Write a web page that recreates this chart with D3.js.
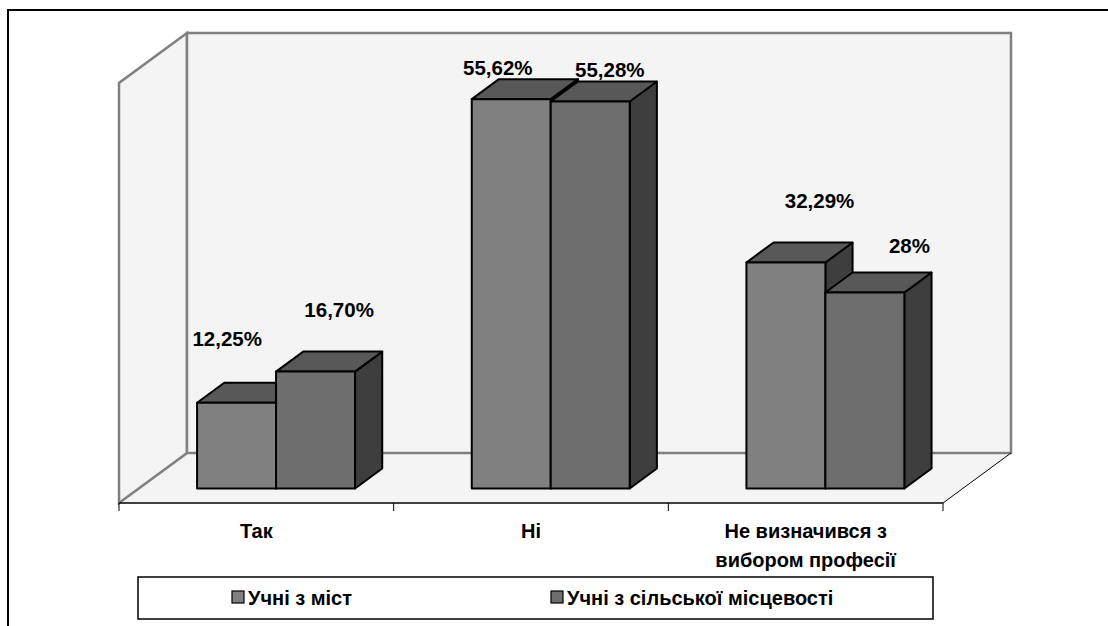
<!DOCTYPE html>
<html><head><meta charset="utf-8">
<script src="https://cdn.jsdelivr.net/npm/d3@7"></script>
<style>body{margin:0;background:#fff}svg{display:block}text{font-family:"Liberation Sans",Arial,sans-serif;font-weight:bold;fill:#000}</style>
</head><body>
<svg id="c" width="1108" height="626"></svg>
<script>
const categories = [["Так"], ["Ні"], ["Не визначився з", "вибором професії"]];
const seriesNames = ["Учні з міст", "Учні з сільської місцевості"];
const cityValues = [12.25, 55.62, 32.29];
const ruralValues = [16.70, 55.28, 28];
const cityLabels = ["12,25%", "55,62%", "32,29%"];
const ruralLabels = ["16,70%", "55,28%", "28%"];
const yMax = 60;

// layout
const front = {x0: 119, x1: 943, base: 503};
const depth = {dx: 68, dy: 50};
const wallH = 420;
const tFront = 0.29, tBack = 0.69;
const frontColors = ["#808080", "#6e6e6e"];
const topColor = "#585858", sideColor = "#3e3e3e";
// label offsets relative to the bar's top-back centre [series][category]
const labelNudge = [[[-23, -54], [-27, -21], [20, -51]], [[10, -52], [6, -22], [31, -37]]];

const svg = d3.select("#c");
const series = [cityValues, ruralValues];
const labels = [cityLabels, ruralLabels];

const x = d3.scaleBand().domain(d3.range(categories.length)).range([front.x0, front.x1]).padding(0);
const bw = x.bandwidth();
const inner = d3.scaleBand().domain([0, 1]).range([0, bw]).paddingInner(0).paddingOuter(0.739);
const h = d3.scaleLinear().domain([0, yMax]).range([0, wallH]);

const P = (px, py, t) => [px + depth.dx * t, py - depth.dy * t];

// outer frame
svg.append("rect").attr("x", 8).attr("y", 10).attr("width", 1200).attr("height", 700)
  .attr("fill", "#fff").attr("stroke", "#000").attr("stroke-width", 2);

const wallFill = "#f4f4f4", wallStroke = "#808080";
const bl = P(front.x0, front.base, 1), br = P(front.x1, front.base, 1);
// floor
svg.append("path").attr("d", d3.line()([[front.x0, front.base], [front.x1, front.base], br, bl]) + "Z")
  .attr("fill", wallFill).attr("stroke", "none");
// side wall
svg.append("path").attr("d", d3.line()([[front.x0, front.base], bl, [bl[0], bl[1] - h(yMax)], [front.x0, front.base - h(yMax)]]) + "Z")
  .attr("fill", wallFill).attr("stroke", wallStroke).attr("stroke-width", 2.5);
// back wall
svg.append("rect").attr("x", bl[0]).attr("y", bl[1] - h(yMax)).attr("width", br[0] - bl[0]).attr("height", h(yMax))
  .attr("fill", wallFill).attr("stroke", wallStroke).attr("stroke-width", 2.5);
// floor right edge
svg.append("line").attr("x1", front.x1).attr("y1", front.base).attr("x2", br[0]).attr("y2", br[1])
  .attr("stroke", "#000").attr("stroke-width", 1);

// axis
const axisG = svg.append("g").attr("transform", `translate(0,${front.base})`);
axisG.append("line").attr("x1", front.x0).attr("x2", front.x1).attr("stroke", "#000").attr("stroke-width", 1.5);
const tickXs = d3.range(categories.length + 1).map(i => front.x0 + i * x.step());
axisG.selectAll(".tk").data(tickXs).join("line").attr("x1", d => d).attr("x2", d => d)
  .attr("y1", 0).attr("y2", 8).attr("stroke", "#000").attr("stroke-width", 1);

// category labels
categories.forEach((lines, i) => {
  const cx = x(i) + bw / 2;
  const t = svg.append("text").attr("text-anchor", "middle").attr("font-size", 20);
  lines.forEach((ln, j) => t.append("tspan").attr("x", cx).attr("y", front.base + 35 + j * 29).text(ln));
});

// bars
const line = d3.line();
categories.forEach((c, i) => {
  series.forEach((vals, s) => {
    const v = vals[i];
    const x0 = x(i) + inner(s), x1 = x0 + inner.bandwidth();
    const f0 = P(x0, front.base, tFront), f1 = P(x1, front.base, tFront);
    const ht = h(v);
    const ftl = [f0[0], f0[1] - ht], ftr = [f1[0], f1[1] - ht];
    const dt = tBack - tFront;
    const btl = [ftl[0] + depth.dx * dt, ftl[1] - depth.dy * dt];
    const btr = [ftr[0] + depth.dx * dt, ftr[1] - depth.dy * dt];
    const bbr = [f1[0] + depth.dx * dt, f1[1] - depth.dy * dt];
    const g = svg.append("g").attr("stroke", "#000").attr("stroke-width", 2).attr("stroke-linejoin", "round");
    g.append("path").attr("d", line([ftr, btr, bbr, f1]) + "Z").attr("fill", sideColor);
    g.append("path").attr("d", line([ftl, ftr, btr, btl]) + "Z").attr("fill", topColor);
    g.append("path").attr("d", line([f0, ftl, ftr, f1]) + "Z").attr("fill", frontColors[s]);
  });
});
// value labels
categories.forEach((c, i) => {
  series.forEach((vals, s) => {
    const x0 = x(i) + inner(s);
    const f0 = P(x0 + inner.bandwidth() / 2, front.base, (tFront + tBack) / 2);
    const ax = f0[0], ay = f0[1] - h(vals[i]);
    const n = labelNudge[s][i];
    svg.append("text").attr("text-anchor", "middle").attr("font-size", 20.5)
      .attr("x", ax + n[0]).attr("y", ay + n[1] + 7).text(labels[s][i]);
  });
});

// legend
const lg = svg.append("g");
lg.append("rect").attr("x", 138).attr("y", 577).attr("width", 795).attr("height", 42)
  .attr("fill", "#fff").attr("stroke", "#000").attr("stroke-width", 1.5);
const legX = [232, 551];
seriesNames.forEach((nm, s) => {
  lg.append("rect").attr("x", legX[s]).attr("y", 591).attr("width", 12).attr("height", 12)
    .attr("fill", frontColors[s]).attr("stroke", "#000").attr("stroke-width", 1.2);
  lg.append("text").attr("x", legX[s] + 16).attr("y", 605).attr("font-size", 20).text(nm);
});
</script>
</body></html>
